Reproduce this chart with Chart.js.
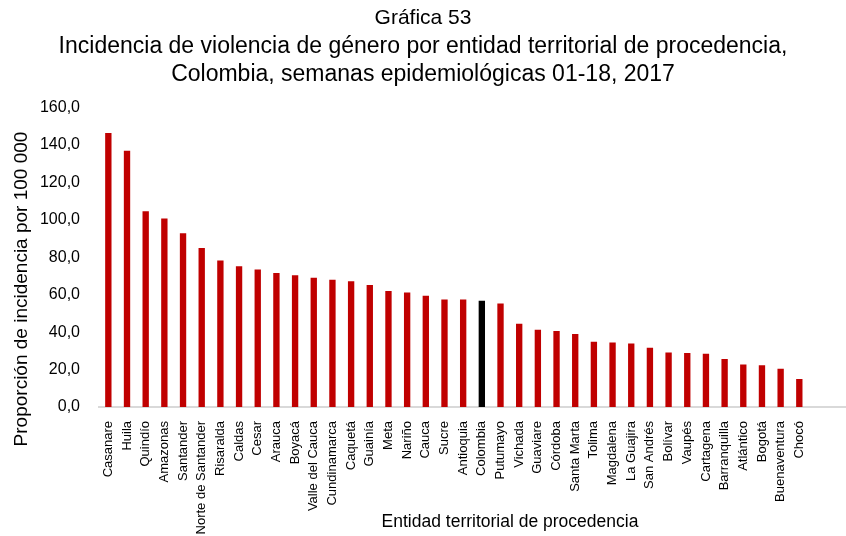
<!DOCTYPE html>
<html>
<head>
<meta charset="utf-8">
<script src="https://cdn.jsdelivr.net/npm/chart.js@4"></script>
<style>
  html, body { margin: 0; padding: 0; background: #fff; }
  #wrap { width: 846px; height: 536px; }
</style>
</head>
<body>
<div id="wrap"><canvas id="grafica"></canvas></div>
<script>
// Entidades territoriales (las dos ultimas vacias: espacio sobrante del eje en el original)
const entidades = [
  "Casanare", "Huila", "Quindío", "Amazonas", "Santander", "Norte de Santander",
  "Risaralda", "Caldas", "Cesar", "Arauca", "Boyacá", "Valle del Cauca",
  "Cundinamarca", "Caquetá", "Guainía", "Meta", "Nariño", "Cauca", "Sucre",
  "Antioquia", "Colombia", "Putumayo", "Vichada", "Guaviare", "Córdoba",
  "Santa Marta", "Tolima", "Magdalena", "La Guajira", "San Andrés", "Bolívar",
  "Vaupés", "Cartagena", "Barranquilla", "Atlántico", "Bogotá", "Buenaventura",
  "Chocó", "", ""
];

// Proporción de incidencia por 100 000
const incidencia = [
  146.3, 136.9, 104.6, 100.7, 92.8, 84.9,
  78.2, 75.2, 73.4, 71.6, 70.4, 69.0,
  67.9, 67.2, 65.1, 61.9, 61.2, 59.4, 57.4,
  57.4, 56.8, 55.3, 44.5, 41.3, 40.6,
  39.0, 34.9, 34.4, 33.9, 31.6, 29.1,
  28.9, 28.4, 25.7, 22.7, 22.3, 20.4,
  14.9, null, null
];

const yTicks = [0, 20, 40, 60, 80, 100, 120, 140, 160];

const titulo = "Gráfica 53";
const subtitulo = [
  "Incidencia de violencia de género por entidad territorial de procedencia,",
  "Colombia, semanas epidemiológicas 01-18, 2017",
];
const tituloX = "Entidad territorial de procedencia";
const tituloY = "Proporción de incidencia por 100 000";

const rojo = "#c00000";
const negro = "#000000";
const sans = "'Liberation Sans', Arial, sans-serif";

const colores = entidades.map((e) => (e === "Colombia" ? negro : rojo));

// Titulos de ejes dibujados a mano (en el original no van centrados en el área del gráfico)
const titulosEjes = {
  id: "titulosEjes",
  afterDraw(chart) {
    const c = chart.ctx;
    c.save();
    c.fillStyle = "#000";
    c.textAlign = "center";
    c.textBaseline = "middle";
    c.font = "17.5px " + sans;
    c.fillText(tituloX, 510, 522);
    c.translate(22, 289);
    c.rotate(-Math.PI / 2);
    c.font = "19px " + sans;
    c.fillText(tituloY, 0, 0);
    c.restore();
  },
};

const ctx = document.getElementById("grafica").getContext("2d");

new Chart(ctx, {
  type: "bar",
  data: {
    labels: entidades,
    datasets: [
      {
        label: "Incidencia",
        data: incidencia,
        backgroundColor: colores,
        barPercentage: 0.34,
        categoryPercentage: 1,
      },
    ],
  },
  plugins: [titulosEjes],
  options: {
    responsive: true,
    maintainAspectRatio: false,
    animation: false,
    layout: { padding: { top: 6, right: 0, bottom: 0, left: 0 } },
    plugins: {
      legend: { display: false },
      tooltip: { enabled: false },
      title: {
        display: true,
        text: titulo,
        color: "#000",
        font: { family: sans, size: 21, weight: "normal", lineHeight: 1.2 },
        padding: { top: 0, bottom: 2 },
      },
      subtitle: {
        display: true,
        text: subtitulo,
        color: "#000",
        font: { family: sans, size: 23, weight: "normal", lineHeight: 1.2 },
        padding: { top: 0, bottom: 19 },
      },
    },
    scales: {
      y: {
        min: 0,
        max: 160,
        afterBuildTicks: (s) => { s.ticks = yTicks.map((v) => ({ value: v })); },
        afterFit: (s) => { s.width = 99; },
        grid: { display: false },
        border: { display: false },
        ticks: {
          color: "#000",
          font: { family: sans, size: 16 },
          padding: 11,
          callback: (v) => v.toFixed(1).replace(".", ","),
        },
      },
      x: {
        afterFit: (s) => {
          s.height = 129;
          s.paddingLeft = 0;
          s.paddingRight = 0;
        },
        grid: { display: false },
        border: { display: true, color: "#d9d9d9", width: 2 },
        ticks: {
          color: "#000",
          font: { family: sans, size: 13 },
          minRotation: 90,
          maxRotation: 90,
          autoSkip: false,
          padding: 6,
        },
      },
    },
  },
});
</script>
</body>
</html>
